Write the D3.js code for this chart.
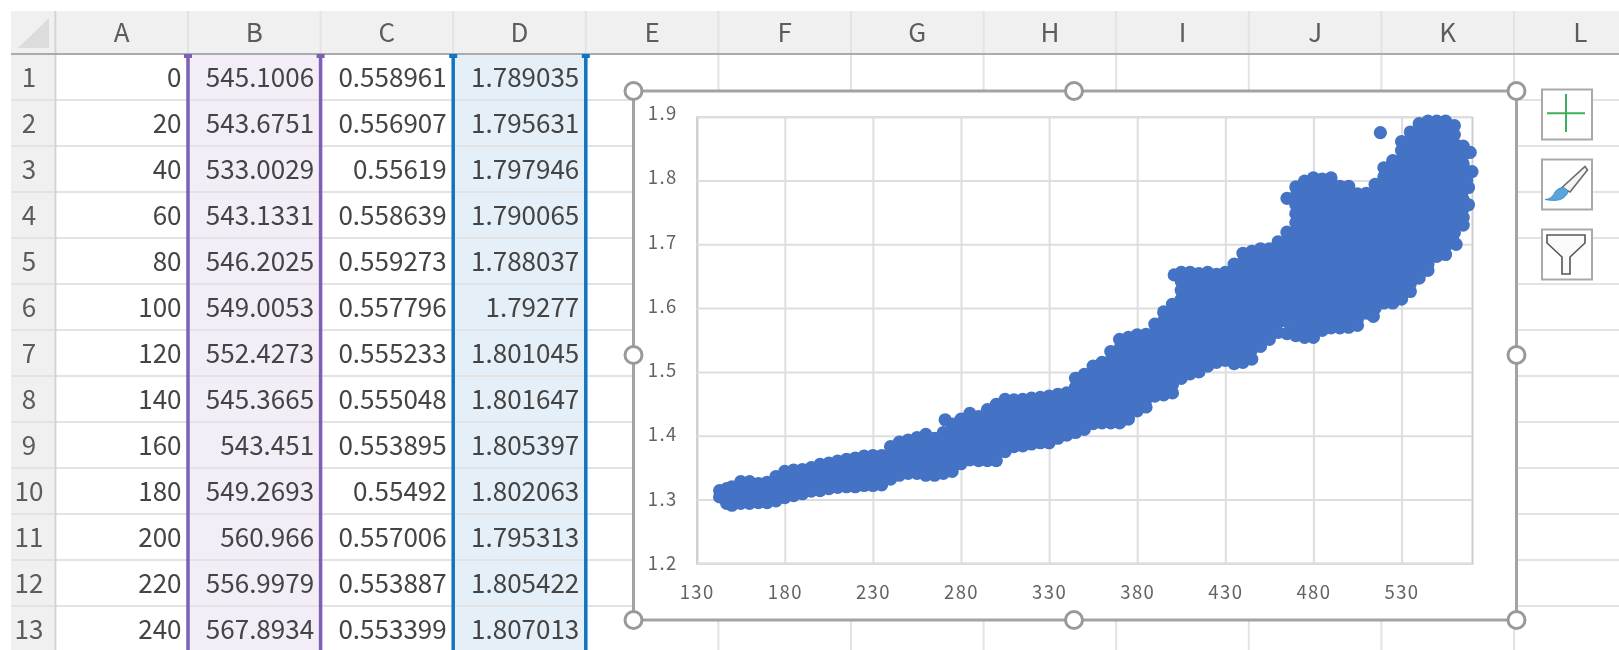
<!DOCTYPE html>
<html><head><meta charset="utf-8">
<style>html,body{margin:0;padding:0;background:#fff;overflow:hidden}svg{display:block;filter:blur(.7px)}
text{font-family:"Noto Sans CJK JP","Noto Sans",sans-serif}</style>
<script src="https://cdnjs.cloudflare.com/ajax/libs/d3/7.8.5/d3.min.js"></script></head><body>
<svg id="c" width="1619" height="650"></svg>
<script>
const columnLetters=["A","B","C","D","E","F","G","H","I","J","K","L"];
const rowNumbers=[1,2,3,4,5,6,7,8,9,10,11,12,13];
const colA=["0","20","40","60","80","100","120","140","160","180","200","220","240"];
const colB=["545.1006","543.6751","533.0029","543.1331","546.2025","549.0053","552.4273","545.3665","543.451","549.2693","560.966","556.9979","567.8934"];
const colC=["0.558961","0.556907","0.55619","0.558639","0.559273","0.557796","0.555233","0.555048","0.553895","0.55492","0.557006","0.553887","0.553399"];
const colD=["1.789035","1.795631","1.797946","1.790065","1.788037","1.79277","1.801045","1.801647","1.805397","1.802063","1.795313","1.805422","1.807013"];
const xTicks=[130,180,230,280,330,380,430,480,530];
const yTicks=[1.2,1.3,1.4,1.5,1.6,1.7,1.8,1.9];
// scatter points, column by column (x, then the y values at that x)
const tailX=[143,147,150,155,160,165,170,175,180,185,190,195,200,205,210,215,220,225,230,235,240,245,250,255,260,265,270,275,280,285,290,295,300];
const tailY=[[1.314,1.304],[1.317,1.305,1.294],[1.32,1.306,1.291],[1.328,1.316,1.305,1.294],[1.328,1.316,1.305,1.294],[1.325,1.315,1.305,1.295],[1.327,1.316,1.305,1.295],[1.336,1.324,1.311,1.298],[1.344,1.331,1.317,1.303],[1.346,1.332,1.319,1.306],[1.347,1.334,1.322,1.309],[1.35,1.337,1.325,1.313],[1.355,1.342,1.328,1.314],[1.357,1.344,1.33,1.317],[1.36,1.346,1.332,1.319],[1.363,1.349,1.334,1.32],[1.365,1.35,1.335,1.32],[1.368,1.356,1.345,1.333,1.322],[1.369,1.357,1.345,1.333,1.322],[1.369,1.357,1.346,1.334,1.323],[1.383,1.37,1.358,1.345,1.332],[1.39,1.377,1.364,1.351,1.338],[1.393,1.38,1.367,1.354,1.341],[1.397,1.383,1.369,1.355,1.341],[1.402,1.389,1.376,1.363,1.35,1.338],[1.396,1.384,1.373,1.361,1.35,1.338],[1.405,1.392,1.38,1.367,1.354,1.341],[1.418,1.403,1.388,1.373,1.358,1.344],[1.426,1.412,1.398,1.384,1.37,1.356],[1.435,1.42,1.406,1.391,1.377,1.362],[1.43,1.416,1.402,1.389,1.375,1.361],[1.441,1.427,1.414,1.401,1.388,1.374,1.361],[1.449,1.434,1.42,1.405,1.39,1.376,1.361]];
const midX=[305,310,315,320,325,330,335,340,345,350,355,360,365,370,375,380,385,390,395,400];
const midY=[[1.457,1.443,1.43,1.416,1.402,1.389,1.375],[1.456,1.444,1.431,1.419,1.407,1.395,1.383],[1.457,1.444,1.431,1.419,1.407,1.395,1.384],[1.459,1.447,1.435,1.423,1.411,1.399,1.387],[1.46,1.448,1.436,1.424,1.412,1.4,1.389],[1.462,1.45,1.438,1.426,1.413,1.401,1.389],[1.465,1.453,1.442,1.43,1.419,1.407,1.396],[1.467,1.456,1.445,1.434,1.423,1.412,1.401],[1.49,1.476,1.462,1.448,1.434,1.419,1.405],[1.496,1.482,1.468,1.453,1.439,1.424,1.41],[1.509,1.496,1.483,1.47,1.457,1.444,1.432,1.419],[1.515,1.501,1.488,1.474,1.461,1.447,1.434,1.42],[1.532,1.518,1.504,1.49,1.476,1.462,1.448,1.434,1.42],[1.551,1.536,1.522,1.507,1.493,1.478,1.464,1.449,1.435,1.42],[1.554,1.54,1.526,1.512,1.498,1.484,1.47,1.455,1.441,1.426],[1.558,1.545,1.532,1.519,1.506,1.492,1.479,1.466,1.452,1.439],[1.559,1.546,1.533,1.52,1.508,1.495,1.482,1.47,1.457,1.445],[1.575,1.562,1.549,1.536,1.526,1.513,1.5,1.487,1.475,1.462],[1.594,1.58,1.566,1.552,1.538,1.524,1.51,1.496,1.482,1.47,1.464],[1.606,1.592,1.578,1.564,1.55,1.536,1.522,1.508,1.494,1.48,1.467]];
const headX=[405,410,415,420,425,430,435,440,445,450,455,460,465,470,475,480,485,490,495,500];
const headY=[[1.656,1.642,1.628,1.614,1.6,1.586,1.572,1.558,1.544,1.53,1.516,1.502,1.49],[1.656,1.642,1.628,1.614,1.6,1.586,1.572,1.558,1.544,1.53,1.516,1.502,1.497],[1.654,1.64,1.626,1.612,1.598,1.584,1.57,1.556,1.542,1.528,1.514,1.5],[1.656,1.642,1.628,1.614,1.6,1.586,1.572,1.558,1.544,1.53,1.516,1.509],[1.653,1.639,1.625,1.611,1.597,1.583,1.569,1.555,1.541,1.527,1.515],[1.656,1.642,1.628,1.614,1.6,1.586,1.572,1.558,1.544,1.53,1.518],[1.669,1.655,1.641,1.627,1.613,1.599,1.585,1.571,1.557,1.543,1.529,1.513],[1.686,1.672,1.658,1.644,1.63,1.616,1.602,1.588,1.574,1.56,1.546,1.532,1.515],[1.689,1.675,1.661,1.647,1.633,1.619,1.605,1.591,1.577,1.563,1.549,1.535,1.52],[1.693,1.679,1.665,1.651,1.637,1.623,1.609,1.595,1.581,1.567,1.553,1.54],[1.693,1.679,1.665,1.651,1.637,1.623,1.609,1.595,1.581,1.567,1.551],[1.704,1.69,1.676,1.662,1.648,1.634,1.62,1.606,1.592,1.578,1.562],[1.772,1.719,1.705,1.691,1.677,1.663,1.649,1.635,1.621,1.607,1.593,1.579,1.56],[1.79,1.776,1.762,1.748,1.734,1.72,1.706,1.692,1.678,1.664,1.65,1.636,1.622,1.608,1.594,1.58,1.568,1.557],[1.799,1.785,1.771,1.757,1.743,1.729,1.715,1.701,1.687,1.673,1.659,1.645,1.631,1.617,1.603,1.589,1.575,1.561,1.554],[1.804,1.79,1.776,1.762,1.748,1.734,1.72,1.706,1.692,1.678,1.664,1.65,1.636,1.622,1.608,1.594,1.58,1.566,1.554],[1.802,1.788,1.774,1.76,1.746,1.732,1.718,1.704,1.69,1.676,1.662,1.648,1.634,1.62,1.606,1.592,1.578,1.565],[1.804,1.79,1.776,1.762,1.748,1.734,1.72,1.706,1.692,1.678,1.664,1.65,1.636,1.622,1.608,1.594,1.58,1.569],[1.791,1.777,1.763,1.749,1.735,1.721,1.707,1.693,1.679,1.665,1.651,1.637,1.623,1.609,1.595,1.581,1.569],[1.791,1.777,1.763,1.749,1.735,1.721,1.707,1.693,1.679,1.665,1.651,1.637,1.623,1.609,1.595,1.581,1.57]];
const crownX=[505,510,515,520,525,530,535,540,545,550,555,560,565];
const crownY=[[1.779,1.765,1.751,1.737,1.723,1.709,1.695,1.681,1.667,1.653,1.639,1.625,1.611,1.597,1.583,1.573],[1.78,1.766,1.752,1.738,1.724,1.71,1.696,1.682,1.668,1.654,1.64,1.626,1.612,1.598,1.592],[1.794,1.78,1.766,1.752,1.738,1.724,1.71,1.696,1.682,1.668,1.654,1.64,1.626,1.612,1.6],[1.82,1.806,1.792,1.778,1.764,1.75,1.736,1.722,1.708,1.694,1.68,1.666,1.652,1.638,1.624,1.608],[1.831,1.817,1.803,1.789,1.775,1.761,1.747,1.733,1.719,1.705,1.691,1.677,1.663,1.649,1.635,1.621,1.608],[1.861,1.847,1.833,1.819,1.805,1.791,1.777,1.763,1.749,1.735,1.721,1.707,1.693,1.679,1.665,1.651,1.637,1.625,1.614],[1.876,1.862,1.848,1.834,1.82,1.806,1.792,1.778,1.764,1.75,1.736,1.722,1.708,1.694,1.68,1.666,1.652,1.638,1.626],[1.889,1.875,1.861,1.847,1.833,1.819,1.805,1.791,1.777,1.763,1.749,1.735,1.721,1.707,1.693,1.679,1.665,1.647],[1.893,1.879,1.865,1.851,1.837,1.823,1.809,1.795,1.781,1.767,1.753,1.739,1.725,1.711,1.697,1.683,1.669,1.659],[1.893,1.879,1.865,1.851,1.837,1.823,1.809,1.795,1.781,1.767,1.753,1.739,1.725,1.711,1.697,1.681],[1.893,1.879,1.865,1.851,1.837,1.823,1.809,1.795,1.781,1.767,1.753,1.739,1.725,1.711,1.697,1.684],[1.886,1.872,1.858,1.844,1.83,1.816,1.802,1.788,1.774,1.76,1.746,1.732,1.718,1.702],[1.854,1.84,1.826,1.812,1.798,1.784,1.77,1.756,1.742,1.73]];
const strayX=[271,401,518,569,570,568,568,567,561,514];
const strayY=[1.425,1.652,1.875,1.844,1.814,1.789,1.762,1.8,1.7,1.587];

const points=[];
[[tailX,tailY],[midX,midY],[headX,headY],[crownX,crownY]].forEach(([xs,ys])=>xs.forEach((x,i)=>ys[i].forEach(y=>points.push([x,y]))));
strayX.forEach((x,i)=>points.push([x,strayY[i]]));

const svg=d3.select("#c");
const colX0=55.4,colW=132.6,rowY0=54,rowH=46;
const colLeft=i=>colX0+i*colW, rowTop=i=>rowY0+i*rowH;
const grid="#e3e3e3";
// header band
svg.append("rect").attr("x",11).attr("y",11).attr("width",1608).attr("height",43).attr("fill","#f0f0f0");
svg.append("rect").attr("x",11).attr("y",54).attr("width",44.4).attr("height",596).attr("fill","#f0f0f0");
// highlighted columns
svg.append("rect").attr("x",colLeft(1)).attr("y",54).attr("width",colW).attr("height",596).attr("fill","#f2edf7");
svg.append("rect").attr("x",colLeft(3)).attr("y",54).attr("width",colW).attr("height",596).attr("fill","#e4eff8");
// cell lines
svg.selectAll(".rl").data(rowNumbers).join("line").attr("x1",11).attr("x2",1619)
  .attr("y1",(d,i)=>rowTop(i+1)).attr("y2",(d,i)=>rowTop(i+1)).attr("stroke",grid).attr("stroke-width",2);
svg.selectAll(".cl").data(columnLetters).join("line").attr("x1",(d,i)=>colLeft(i+1)).attr("x2",(d,i)=>colLeft(i+1))
  .attr("y1",11).attr("y2",650).attr("stroke",grid).attr("stroke-width",2);
svg.append("line").attr("x1",colX0).attr("x2",colX0).attr("y1",11).attr("y2",650).attr("stroke","#d4d4d4").attr("stroke-width",2);
svg.append("line").attr("x1",11).attr("x2",1619).attr("y1",54).attr("y2",54).attr("stroke","#ababab").attr("stroke-width",2);
svg.append("path").attr("d","M49 18V48H18Z").attr("fill","#dcdcdc");
// headers
svg.selectAll(".ch").data(columnLetters).join("text").attr("x",(d,i)=>colLeft(i)+colW/2).attr("y",41.5)
  .attr("text-anchor","middle").attr("font-size",26).attr("font-weight",400).attr("fill","#5c5c5c").text(d=>d);
svg.selectAll(".rh").data(rowNumbers).join("text").attr("x",29).attr("y",(d,i)=>rowTop(i)+33)
  .attr("text-anchor","middle").attr("font-size",26).attr("font-weight",400).attr("fill","#5c5c5c").text(d=>d);
// cells
[colA,colB,colC,colD].forEach((col,c)=>{
  svg.append("g").selectAll("text").data(col).join("text")
   .attr("x",colLeft(c+1)-6.5).attr("y",(d,i)=>rowTop(i)+33).attr("text-anchor","end")
   .attr("font-size",26).attr("font-weight",400).attr("fill","#444").text(d=>d);
});
// range borders
[[1,"#7e5fb6"],[2,"#7e5fb6"],[3,"#0f75c2"],[4,"#0f75c2"]].forEach(([i,col])=>{
  svg.append("line").attr("x1",colLeft(i)).attr("x2",colLeft(i)).attr("y1",58).attr("y2",650).attr("stroke",col).attr("stroke-width",3.5);
  svg.append("rect").attr("x",colLeft(i)-4).attr("y",54).attr("width",8).attr("height",4).attr("fill",col);
});
// chart frame
const fx0=633.5,fx1=1516.5,fy0=91,fy1=620;
svg.append("rect").attr("x",fx0).attr("y",fy0).attr("width",fx1-fx0).attr("height",fy1-fy0).attr("fill","#fff").attr("stroke","#a3a3a3").attr("stroke-width",3);
const x=d3.scaleLinear().domain([130,570]).range([696.7,1472]);
const y=d3.scaleLinear().domain([1.2,1.9]).range([563.3,116.7]);
const ax=svg.append("g").attr("transform","translate(0,563.3)")
  .call(d3.axisBottom(x).tickValues(xTicks).tickFormat(d3.format("d")).tickSize(-446.6).tickPadding(13));
const ay=svg.append("g").attr("transform","translate(696.7,0)")
  .call(d3.axisLeft(y).tickValues(yTicks).tickFormat(d3.format(".1f")).tickSize(-775.3).tickPadding(19));
[ax,ay].forEach(g=>{
  g.selectAll(".tick line").attr("stroke","#dedede").attr("stroke-width",2);
  g.selectAll(".domain").attr("stroke","#cfcfcf").attr("stroke-width",2);
  g.selectAll("text").attr("font-family",'"Noto Sans CJK JP","Noto Sans",sans-serif').attr("font-size",18.5).attr("font-weight",400).attr("letter-spacing","1.4px").attr("fill","#636363");
});
ax.selectAll("text").attr("y",23);
ay.selectAll("text").attr("y",d=>-3*(d-1.2)/0.7);
// scatter
svg.append("g").selectAll("circle").data(points).join("circle")
  .attr("cx",d=>x(d[0])).attr("cy",d=>y(d[1])).attr("r",6.6).attr("fill","#4472c4");
// handles
const hs=[[fx0,fy0],[1074,fy0],[fx1,fy0],[fx0,355],[fx1,355],[fx0,fy1],[1074,fy1],[fx1,fy1]];
svg.append("g").selectAll("circle").data(hs).join("circle").attr("cx",d=>d[0]).attr("cy",d=>d[1]).attr("r",8.5)
  .attr("fill","#fff").attr("stroke","#999").attr("stroke-width",3);
// side buttons
[89.5,159.5,229.5].forEach(t=>svg.append("rect").attr("x",1542).attr("y",t).attr("width",50).attr("height",50).attr("fill","#fff").attr("stroke","#a9a9a9").attr("stroke-width",2));
svg.append("path").attr("d","M1547 113.3H1585M1566 94V132").attr("stroke","#3fae5a").attr("stroke-width",2).attr("fill","none");
svg.append("path").attr("d","M1585 166.5L1587.5 170L1570 192L1561.5 188Z").attr("fill","#f4f4f4").attr("stroke","#6a6a6a").attr("stroke-width",1.6);
svg.append("path").attr("d","M1563 187.5C1567 189 1569 191 1567 194C1564 199 1558 202 1545 199.5C1551 199 1553 196 1555 192C1557 189 1560 188 1563 187.5Z").attr("fill","#5ba4da").attr("stroke","#3c8fcc").attr("stroke-width",1);
svg.append("path").attr("d","M1547 235H1585V243L1570 257V274H1562V257L1547 243Z").attr("fill","#fafafa").attr("stroke","#555").attr("stroke-width",1.6);
</script></body></html>
